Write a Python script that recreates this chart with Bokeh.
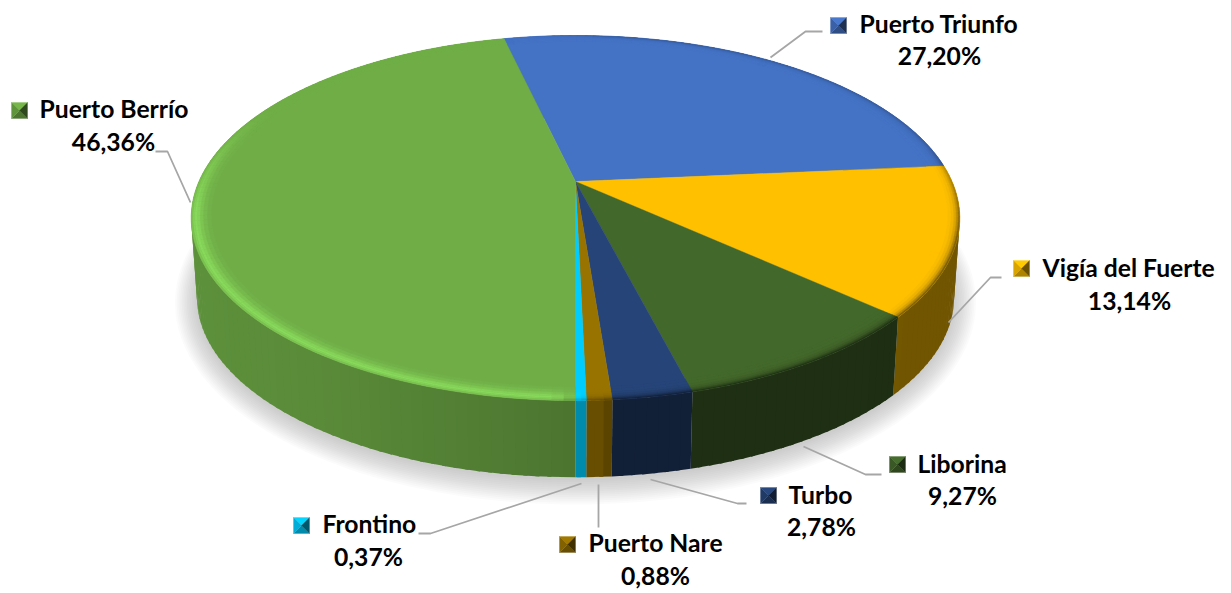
import numpy as np
from bokeh.plotting import figure
from bokeh.core.properties import value
from bokeh.embed import file_html
from bokeh.resources import INLINE

# ---- chart data ----
categories = ["Puerto Triunfo", "Vigía del Fuerte", "Liborina", "Turbo",
              "Puerto Nare", "Frontino", "Puerto Berrío"]
shares = [27.20, 13.14, 9.27, 2.78, 0.88, 0.37, 46.36]
share_labels = ["27,20%", "13,14%", "9,27%", "2,78%", "0,88%", "0,37%", "46,36%"]
colors = ["#4472C4", "#FFC000", "#43682B", "#264478", "#997300", "#00CCFF", "#70AD47"]

# ---- layout (page pixels) ----
W, H = 1231, 593
FIRST_ANGLE = -13.1          # degrees clockwise from the back of the pie
CX, CY = 575.0, 181.0        # pie centre as projected
K, RX, RY = 0.2, 376.5, 175.2   # perspective, horizontal and depth scales
DEPTH, BASE_SCALE = 80.0, 0.985
FONT_PX = "24.7px"

# key x, key y, name x (left), name y, share x (centre), share y
label_pos = {
    "Puerto Triunfo": (830, 17, 859, 23, 939, 55),
    "Vigía del Fuerte": (1013, 260, 1042, 267, 1129, 300),
    "Liborina": (889, 456, 917, 463, 962, 495),
    "Turbo": (760, 487, 788, 494, 821, 526),
    "Puerto Nare": (559, 536, 588, 542, 655, 575),
    "Frontino": (293, 517, 322, 523, 368, 556),
    "Puerto Berrío": (11, 102, 39, 108, 113, 141),
}
# leader lines: where they touch the pie, elbow and end
leaders = {
    "Puerto Triunfo": ([770, 805, 822], [57, 31, 31]),
    "Vigía del Fuerte": ([948, 990, 1001], [322, 277, 277]),
    "Liborina": ([803, 865, 881], [446, 474, 474]),
    "Turbo": ([650, 737, 746], [479, 503, 503]),
    "Puerto Nare": ([598, 598], [484, 527]),
    "Frontino": ([581, 430, 418], [483, 533, 533]),
    "Puerto Berrío": ([190, 167, 155], [202, 151, 151]),
}


def hex_rgb(h):
    return np.array([int(h[i:i + 2], 16) for i in (1, 3, 5)], dtype=float)


def rgb_hex(c):
    c = np.clip(np.round(c), 0, 255).astype(int)
    return "#%02x%02x%02x" % tuple(c)


def project(theta_deg, r=1.0):
    t = np.radians(theta_deg)
    u, v = r * np.sin(t), -r * np.cos(t)
    d = 1 - K * v
    return CX + RX * u / d, CY + RY * v / d


def base(x, y):
    return CX + BASE_SCALE * (x - CX), CY + BASE_SCALE * (y - CY) + DEPTH


def wall_shade(theta_deg):
    u = np.sin(np.radians(theta_deg))
    return np.interp(u, [-1, -0.55, 0.0, 0.055, 0.09, 1.0],
                     [0.84, 0.80, 0.68, 0.68, 0.46, 0.44])


p = figure(width=W, height=H, x_range=(0, W), y_range=(H, 0),
           output_backend="svg", toolbar_location=None, min_border=0,
           outline_line_color=None, background_fill_color="white")
p.axis.visible = False
p.grid.visible = False

# soft shadow
th = np.linspace(0, 360, 241)
tx, ty = project(th)
bx, by = base(tx, ty)
for grow in np.linspace(22, 0, 14):
    sx = CX + (bx - CX) * (1 + grow / 380)
    sy = by + 3 + (by - by.mean()) * (grow / 180)
    p.patch(sx, sy, fill_color="#7f7f7f", fill_alpha=0.03, line_color=None)

# slice boundaries
edges = FIRST_ANGLE + np.cumsum([0] + shares) * 3.6
STEP = 1.5

# walls
wx, wy, wc = [], [], []
for i, col in enumerate(colors):
    a, b = edges[i], edges[i + 1]
    n = max(2, int(np.ceil((b - a) / STEP)))
    seg = np.linspace(a, b, n + 1)
    c = hex_rgb(col)
    for s0, s1 in zip(seg[:-1], seg[1:]):
        s1b = min(s1 + 0.5, b)
        x0, y0 = project(s0)
        x1, y1 = project(s1b)
        bx0, by0 = base(x0, y0)
        bx1, by1 = base(x1, y1)
        wx.append([x0, x1, bx1, bx0])
        wy.append([y0, y1, by1, by0])
        wc.append(rgb_hex(c * wall_shade((s0 + s1) / 2)))
p.patches(wx, wy, fill_color=wc, line_color=None)

# top face
for i, col in enumerate(colors):
    seg = np.linspace(edges[i], edges[i + 1], max(3, int((edges[i + 1] - edges[i]) * 2)))
    x, y = project(seg)
    p.patch(np.r_[CX, x], np.r_[CY, y], fill_color=col, line_color=col, line_width=0.4)

# bevelled rim
rings = np.array([0.950, 0.960, 0.970, 0.978, 0.985, 0.991, 0.996, 1.0])
light = np.array([0.08, 0.22, 0.45, 0.70, 0.85, 0.70, 0.40])
dark = np.array([0.0, 0.0, 0.04, 0.12, 0.28, 0.55, 0.90])
rx_, ry_, rc = [], [], []
for i, col in enumerate(colors):
    a, b = edges[i], edges[i + 1]
    n = max(2, int(np.ceil((b - a) / STEP)))
    seg = np.linspace(a, b, n + 1)
    c = hex_rgb(col)
    for s0, s1 in zip(seg[:-1], seg[1:]):
        m = (s0 + s1) / 2
        t = np.radians(m)
        su, cv = np.sin(t), -np.cos(t)
        amb = np.clip((cv + 0.45) / 0.6, 0, 1)       # fades out towards the back
        lit = amb * np.clip((-su + 0.03) / 0.08, 0, 1)
        shd = np.clip((su + 0.25) / 0.3, 0, 1) * (0.35 + 0.65 * np.clip((cv + 0.2) / 0.5, 0, 1))
        for j in range(len(light)):
            x0, y0 = project(s0, rings[j])
            x1, y1 = project(s1, rings[j])
            x2, y2 = project(s1, rings[j + 1])
            x3, y3 = project(s0, rings[j + 1])
            colr = c + (np.minimum(c * 1.2, 255) - c + np.array([6, 18, 10])) * light[j] * lit
            colr = colr + (c * wall_shade(m) - colr) * dark[j] * shd * (1 - lit)
            rx_.append([x0, x1, x2, x3])
            ry_.append([y0, y1, y2, y3])
            rc.append(rgb_hex(colr))
p.patches(rx_, ry_, fill_color=rc, line_color=rc, line_width=0.4)

# leader lines
for name in categories:
    lx, ly = leaders[name]
    p.line(lx, ly, line_color="#A6A6A6", line_width=1.8)

# labels with pyramid legend keys
KEY_W, KEY_H = 16, 16
for name, pct, col in zip(categories, share_labels, colors):
    kx, ky, nx, ny, sx, sy = label_pos[name]
    c = hex_rgb(col)
    cx, cy = kx + KEY_W / 2, ky + KEY_H / 2
    xs = [[kx, kx + KEY_W, cx], [kx, kx + KEY_W, cx], [kx, kx, cx], [kx + KEY_W, kx + KEY_W, cx]]
    ys = [[ky, ky, cy], [ky + KEY_H, ky + KEY_H, cy], [ky, ky + KEY_H, cy], [ky, ky + KEY_H, cy]]
    shades = [rgb_hex(c * 1.05), rgb_hex(c * 0.68), rgb_hex(c * 0.85), rgb_hex(c * 0.42)]
    p.patches(xs, ys, fill_color=shades, line_color=shades, line_width=0.3)
    p.text([nx], [ny], text=[name], text_font=value("Lato"), text_font_style="bold",
           text_font_size=FONT_PX, text_color="#000000", text_baseline="middle", text_align="left")
    p.text([sx], [sy], text=[pct], text_font=value("Lato"), text_font_style="bold",
           text_font_size=FONT_PX, text_color="#000000", text_baseline="middle", text_align="center")

open("out.html", "w").write(file_html(p, INLINE))
